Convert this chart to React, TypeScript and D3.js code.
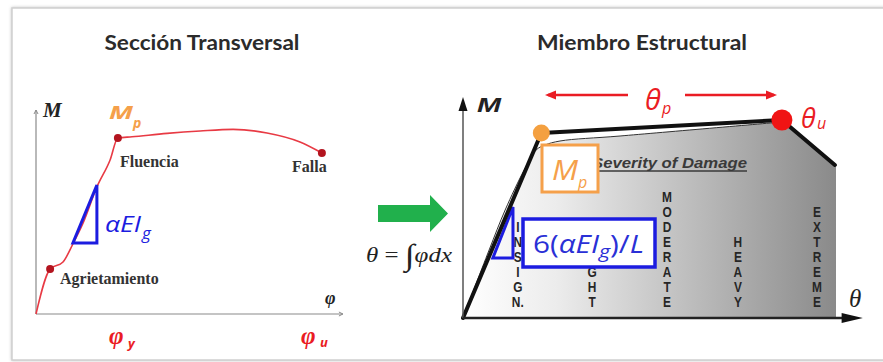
import React from "react";
import * as d3 from "d3";

// ---------- Left chart: moment–curvature (section) ----------
const curvePhi = [0, 4.7, 9, 12.3, 15.7, 20.3, 24.7, 27.3, 32, 43.7, 54.7, 65.7, 77, 88, 95.3];
const curveM = [0, 22.5, 26, 35, 45.5, 63.5, 77, 88, 88.6, 90.3, 91.5, 92.3, 90.5, 86, 80.5];
const keyNames = ["Agrietamiento", "Fluencia", "Falla"];
const keyPhi = [4.7, 27.3, 95.3];
const keyM = [22.5, 88, 80.5];
const triPhi = [12.3, 20.3, 20.3];
const triM = [35.5, 35.5, 64.5];

// ---------- Right chart: moment–rotation (member) ----------
const envTheta = [0, 7, 11.3, 16.4, 19.6, 22, 26, 42.1, 85.5, 100, 100];
const envM = [0, 34, 54, 74, 84, 86.5, 88.5, 91, 98, 76, 0];
const backTheta = [0, 21, 85.5, 99.7];
const backM = [0, 92.5, 99, 76.5];
const damageLabels = ["INSIGN.", "SLIGHT", "MODERATE", "HEAVY", "EXTREME"];
const damageTheta = [14.7, 34.6, 54.7, 73.7, 94.9];
const rTriTheta = [8, 13.4, 13.4];
const rTriM = [30, 30, 55.5];

const titles = ["Sección Transversal", "Miembro Estructural"];

const letters = (s: string) => {
  const out: string[] = [];
  for (let i = 0; i < s.length; i++) {
    if (s[i] === "." && out.length) out[out.length - 1] += ".";
    else out.push(s[i]);
  }
  return out;
};

export default function App() {
  const W = 883, H = 362;
  const lx = d3.scaleLinear().domain([0, 100]).range([36, 336]);
  const ly = d3.scaleLinear().domain([0, 100]).range([314, 114]);
  const rx = d3.scaleLinear().domain([0, 100]).range([463, 836]);
  const ry = d3.scaleLinear().domain([0, 100]).range([318, 118]);

  const leftLine = d3
    .line<[number, number]>()
    .x((d) => lx(d[0]))
    .y((d) => ly(d[1]))
    .curve(d3.curveMonotoneX);
  const leftPts = curvePhi.map((p, i) => [p, curveM[i]] as [number, number]);

  const triL = d3
    .line<[number, number]>()
    .x((d) => lx(d[0]))
    .y((d) => ly(d[1]))
    .curve(d3.curveLinearClosed);
  const triLPts = triPhi.map((p, i) => [p, triM[i]] as [number, number]);

  const rLin = d3
    .line<[number, number]>()
    .x((d) => rx(d[0]))
    .y((d) => ry(d[1]));
  const envPts = envTheta.map((t, i) => [t, envM[i]] as [number, number]);
  const envArea = d3
    .line<[number, number]>()
    .x((d) => rx(d[0]))
    .y((d) => ry(d[1]))
    .curve(d3.curveLinearClosed);
  const thinPts = envPts.slice(0, 9);
  const thinLine = d3
    .line<[number, number]>()
    .x((d) => rx(d[0]))
    .y((d) => ry(d[1]))
    .curve(d3.curveCatmullRom.alpha(0.5));
  const backPts = backTheta.map((t, i) => [t, backM[i]] as [number, number]);
  const rTriPts = rTriTheta.map((t, i) => [t, rTriM[i]] as [number, number]);

  const serif = "'Liberation Serif', 'DejaVu Serif', serif";
  const sans = "'Open Sans', 'Noto Sans', sans-serif";
  const arial = "'Liberation Sans', Arial, sans-serif";
  const orange = "#f5a04a";
  const red = "#ea1c24";
  const blue = "#1c1ce0";

  const mpX = rx(backTheta[1]);
  const mpY = ry(backM[1]);
  const uX = rx(backTheta[2]);
  const uY = ry(backM[2]);

  // stiffness box extents (letters hidden behind it in the reference are not drawn)
  const boxTop = 219, boxBottom = 267, boxLeft = 523, boxRight = 655;

  return (
    <div style={{ position: "fixed", left: 0, top: 0 }}>
      <svg width={W} height={H} viewBox={`0 0 ${W} ${H}`} style={{ display: "block", background: "#fff" }}>
        <defs>
          <linearGradient id="dmg" gradientUnits="userSpaceOnUse" x1={rx(0)} y1={0} x2={rx(100)} y2={0}>
            <stop offset="0" stopColor="#ffffff" />
            <stop offset="0.25" stopColor="#ececec" />
            <stop offset="1" stopColor="#8a8a8a" />
          </linearGradient>
          <filter id="shadow" x="-5%" y="-5%" width="110%" height="110%">
            <feDropShadow dx="0" dy="0" stdDeviation="1.5" floodColor="#999" floodOpacity="0.6" />
          </filter>
        </defs>

        {/* frame */}
        <rect x={12} y={8} width={900} height={352} fill="#fff" stroke="#cfcfcf" strokeWidth={1.5} filter="url(#shadow)" />

        {/* titles */}
        <text x={202} y={50} textAnchor="middle" fontFamily="Lato, sans-serif" fontWeight={700} fontSize={20} fill="#2b2b2b" textLength={195} lengthAdjust="spacingAndGlyphs">
          {titles[0]}
        </text>
        <text x={642} y={50} textAnchor="middle" fontFamily="Lato, sans-serif" fontWeight={700} fontSize={20} fill="#2b2b2b" textLength={210} lengthAdjust="spacingAndGlyphs">
          {titles[1]}
        </text>

        {/* ===== Left chart ===== */}
        <g>
          <line x1={lx(0)} y1={ly(0)} x2={lx(0)} y2={ly(102)} stroke="#8a8a8a" strokeWidth={1.2} />
          <path d={`M${lx(0) - 2},${ly(102) + 4} L${lx(0)},${ly(102)} L${lx(0) + 2},${ly(102) + 4}`} fill="none" stroke="#8a8a8a" strokeWidth={1} />
          <line x1={lx(0)} y1={ly(0)} x2={lx(102.3)} y2={ly(0)} stroke="#8a8a8a" strokeWidth={1.2} />
          <path d={`M${lx(102.3) - 4},${ly(0) - 2} L${lx(102.3)},${ly(0)} L${lx(102.3) - 4},${ly(0) + 2}`} fill="none" stroke="#8a8a8a" strokeWidth={1} />
          <text x={43} y={117} fontFamily={serif} fontStyle="italic" fontWeight={700} fontSize={21} fill="#222">M</text>
          <text x={325} y={304} fontFamily={serif} fontStyle="italic" fontWeight={700} fontSize={18} fill="#222">φ</text>

          <path d={leftLine(leftPts) || ""} fill="none" stroke="#e83a44" strokeWidth={1.6} />
          {keyPhi.map((p, i) => (
            <circle key={keyNames[i]} cx={lx(p)} cy={ly(keyM[i])} r={4} fill="#b3141f" />
          ))}
          <text x={60} y={284} fontFamily={serif} fontWeight={700} fontSize={16} fill="#333">{keyNames[0]}</text>
          <text x={120} y={167} fontFamily={serif} fontWeight={700} fontSize={16} fill="#333">{keyNames[1]}</text>
          <text x={292} y={172} fontFamily={serif} fontWeight={700} fontSize={16} fill="#333">{keyNames[2]}</text>

          <path d={triL(triLPts) || ""} fill="none" stroke={blue} strokeWidth={3} strokeLinejoin="miter" />
          <text x={105} y={232} fontFamily={sans} fontStyle="italic" fontSize={22} fill={blue} textLength={36} lengthAdjust="spacingAndGlyphs">αEI</text>
          <text x={142} y={239} fontFamily={sans} fontStyle="italic" fontSize={17} fill={blue}>g</text>

          <text x={109} y={119} fontFamily={sans} fontStyle="italic" fontWeight={700} fontSize={18} fill={orange} textLength={24} lengthAdjust="spacingAndGlyphs">M</text>
          <text x={133} y={128} fontFamily={sans} fontStyle="italic" fontWeight={700} fontSize={14} fill={orange}>p</text>

          <text x={109} y={344} fontFamily={serif} fontStyle="italic" fontWeight={700} fontSize={25} fill={red}>φ</text>
          <text x={128} y={348} fontFamily={sans} fontStyle="italic" fontWeight={700} fontSize={13} fill={red}>y</text>
          <text x={301} y={344} fontFamily={serif} fontStyle="italic" fontWeight={700} fontSize={25} fill={red}>φ</text>
          <text x={320} y={347} fontFamily={sans} fontStyle="italic" fontWeight={700} fontSize={13} fill={red}>u</text>
        </g>

        {/* green arrow and formula */}
        <polygon points="378,205 430,205 430,195 448,213.5 430,232 430,222 378,222" fill="#21b04c" />
        <text x={366} y={262} fontFamily={serif} fontSize={21} fill="#222" textLength={86} lengthAdjust="spacingAndGlyphs">
          <tspan fontStyle="italic">θ</tspan>
          <tspan> = </tspan>
          <tspan fontSize={30} dy={3}>∫</tspan>
          <tspan fontStyle="italic" dy={-3}>φdx</tspan>
        </text>

        {/* ===== Right chart ===== */}
        <g>
          <path d={envArea(envPts) || ""} fill="url(#dmg)" />
          <path d={thinLine(thinPts) || ""} fill="none" stroke="#333" strokeWidth={1} />

          {damageLabels.map((lab, k) => {
            const ls = letters(lab);
            const n = ls.length;
            const x = rx(damageTheta[k]);
            return (
              <g key={lab}>
                {ls.map((c, i) => {
                  const y = ry(5.5) - (n - 1 - i) * 15;
                  const hidden = x > boxLeft + 4 && x < boxRight && y - 6 < boxBottom && y > boxTop;
                  if (hidden) return null;
                  return (
                    <text key={i} x={x} y={y} textAnchor="middle" fontFamily={arial} fontWeight={700} fontSize={14} fill="#262626" transform={`translate(${x},0) scale(0.85,1) translate(${-x},0)`}>
                      {c}
                    </text>
                  );
                })}
              </g>
            );
          })}

          <text x={592} y={168} fontFamily={arial} fontStyle="italic" fontWeight={700} fontSize={15} fill="#3a3a3a" textLength={155} lengthAdjust="spacingAndGlyphs">
            Severity of Damage
          </text>
          <line x1={594} y1={171} x2={747} y2={171} stroke="#3a3a3a" strokeWidth={1.3} />

          <path d={envArea(rTriPts) || ""} fill="none" stroke={blue} strokeWidth={3} />

          <path d={rLin(backPts) || ""} fill="none" stroke="#111" strokeWidth={4} strokeLinejoin="round" strokeLinecap="round" />

          {/* axes */}
          <line x1={rx(0)} y1={ry(0)} x2={rx(0)} y2={ry(105)} stroke="#555" strokeWidth={1.5} />
          <polygon points={`${rx(0) - 4.5},${ry(103.5)} ${rx(0)},${ry(110.5)} ${rx(0) + 4.5},${ry(103.5)}`} fill="#111" />
          <line x1={rx(0)} y1={ry(0)} x2={rx(102)} y2={ry(0)} stroke="#222" strokeWidth={2.5} />
          <polygon points={`${rx(101.5)},${ry(0) - 5} ${rx(107.2)},${ry(0)} ${rx(101.5)},${ry(0) + 5}`} fill="#111" />
          <text x={477} y={112} fontFamily={arial} fontStyle="italic" fontWeight={700} fontSize={21} fill="#222" textLength={24} lengthAdjust="spacingAndGlyphs">M</text>
          <text x={849} y={307} fontFamily={serif} fontStyle="italic" fontSize={25} fill="#222">θ</text>

          {/* Mp box */}
          <rect x={542} y={145} width={56} height={47} fill="#fff" stroke={orange} strokeWidth={3} />
          <text x={552} y={180} fontFamily={sans} fontStyle="italic" fontSize={27} fill={orange} textLength={26} lengthAdjust="spacingAndGlyphs">M</text>
          <text x={578} y={188} fontFamily={sans} fontStyle="italic" fontSize={16} fill={orange}>p</text>

          {/* stiffness box */}
          <rect x={boxLeft} y={boxTop} width={boxRight - boxLeft} height={boxBottom - boxTop} fill="#fff" stroke={blue} strokeWidth={3.5} />
          <text x={533} y={253} fontFamily={sans} fontSize={25} fill="#2a30d6" textLength={111} lengthAdjust="spacingAndGlyphs">
            <tspan>6(</tspan>
            <tspan fontStyle="italic">αEI</tspan>
            <tspan fontStyle="italic" fontSize={18} dy={5}>g</tspan>
            <tspan dy={-5}>)/</tspan>
            <tspan fontStyle="italic">L</tspan>
          </text>

          {/* points */}
          <circle cx={mpX} cy={mpY} r={8.5} fill="#f4a040" />
          <circle cx={uX} cy={uY} r={10.5} fill="#f01414" />

          {/* theta_p arrow */}
          <line x1={548} y1={95} x2={628} y2={95} stroke={red} strokeWidth={2.5} />
          <polygon points="545,95 556,90.5 556,99.5" fill={red} />
          <line x1={685} y1={95} x2={774} y2={95} stroke={red} strokeWidth={2.5} />
          <polygon points="777,95 766,90.5 766,99.5" fill={red} />
          <text x={645} y={110} fontFamily={sans} fontStyle="italic" fontSize={29} fill={red}>θ</text>
          <text x={662} y={114} fontFamily={sans} fontStyle="italic" fontSize={16} fill={red}>p</text>
          <text x={801} y={128} fontFamily={sans} fontStyle="italic" fontSize={27} fill={red}>θ</text>
          <text x={817} y={129} fontFamily={sans} fontStyle="italic" fontSize={16} fill={red}>u</text>
        </g>
      </svg>
    </div>
  );
}
